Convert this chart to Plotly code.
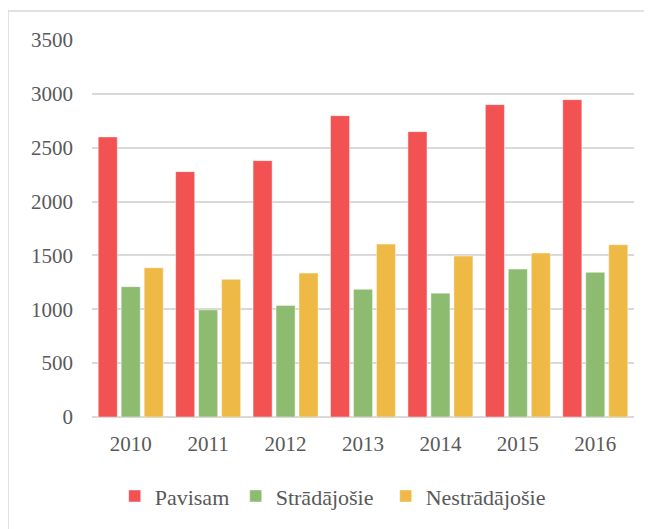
import plotly.graph_objects as go

years = ["2010", "2011", "2012", "2013", "2014", "2015", "2016"]
pavisam = [2600, 2278, 2380, 2797, 2649, 2900, 2946]
stradajosie = [1210, 995, 1036, 1185, 1150, 1373, 1343]
nestradajosie = [1385, 1278, 1336, 1605, 1494, 1522, 1600]

series_names = ["Pavisam", "Strādājošie", "Nestrādājošie"]
series_values = [pavisam, stradajosie, nestradajosie]
colors = ["#F25252", "#8DBB70", "#EFB945"]

FONT = "'Liberation Serif', 'Times New Roman', serif"
TXT = "#595959"

L, T, PW, PH = 84, 32, 542, 377
legend_ids = ["legend", "legend2", "legend3"]
legend_sq = [130, 251, 401]  # left edge of legend swatch, screen px

fig = go.Figure()
for name, vals, col, lid in zip(series_names, series_values, colors, legend_ids):
    fig.add_trace(go.Bar(
        x=years, y=vals, name=name, legend=lid,
        marker=dict(color=col, line=dict(color="rgba(255,255,255,0.45)", width=1)),
    ))

legend_common = dict(orientation="h", xanchor="left", y=-0.21, yanchor="middle",
                     font=dict(family=FONT, size=22, color=TXT), itemclick=False,
                     bgcolor="rgba(0,0,0,0)")
legends = {}
for lid, sq in zip(legend_ids, legend_sq):
    legends[lid] = dict(legend_common, x=(sq - 15.3 - 92) / PW)

fig.update_layout(
    width=652, height=529,
    margin=dict(l=L, r=652 - L - PW, t=T, b=529 - T - PH),
    paper_bgcolor="white", plot_bgcolor="white",
    barmode="group", bargap=0.11, bargroupgap=0.17,
    font=dict(family=FONT, size=21, color=TXT),
    showlegend=True,
    xaxis=dict(showgrid=False, showline=False, ticks="", ticklabelstandoff=12,
               tickfont=dict(family=FONT, size=21, color=TXT)),
    yaxis=dict(range=[0, 3500], dtick=500, showgrid=True, gridcolor="#D9D9D9", gridwidth=1.6,
               zeroline=True, zerolinecolor="#D9D9D9", zerolinewidth=2,
               showline=False, ticks="", ticklabelstandoff=18,
               tickfont=dict(family=FONT, size=21, color=TXT)),
    shapes=[dict(type="rect", xref="paper", yref="paper",
                 x0=(8 - 92) / PW, x1=(670 - 92) / PW,
                 y0=(417 - 545) / PH, y1=(417 - 11) / PH,
                 line=dict(color="#D9D9D9", width=1.5), fillcolor="rgba(0,0,0,0)", layer="below")],
    **legends,
)

fig.write_html("out.html")
